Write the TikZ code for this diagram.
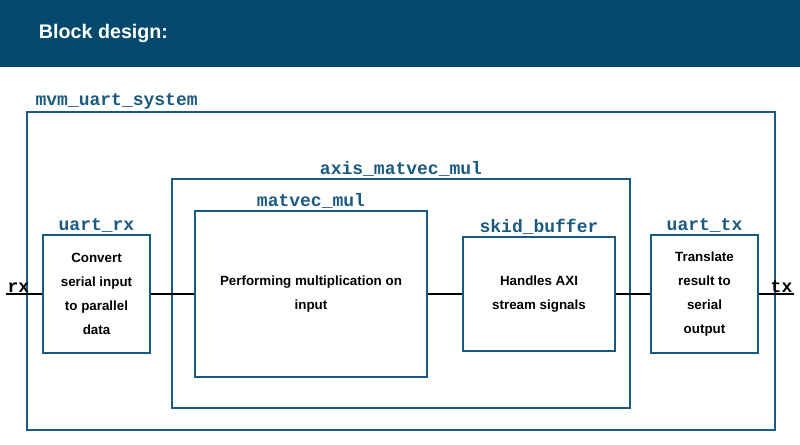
\documentclass[tikz,border=0pt]{standalone}
\usepackage{fontspec}
\setmainfont{Liberation Sans}
\setmonofont{Liberation Mono}
\usepackage{tikz}
\usetikzlibrary{positioning}
\definecolor{hdrblue}{HTML}{03496D}
\definecolor{boxblue}{HTML}{1B5A80}
\tikzset{
  block/.style={draw=boxblue, line width=1.4pt, rectangle, inner sep=0pt,
    align=center, font=\fontsize{9.5}{17}\selectfont\bfseries},
  lbl/.style={font=\fontsize{12.8}{14}\selectfont\ttfamily\bfseries, text=boxblue, inner sep=1pt},
  sig/.style={draw=black, line width=1.4pt},
  pin/.style={font=\fontsize{12.8}{14}\selectfont\ttfamily\bfseries, inner sep=1pt}
}
\begin{document}
\begin{tikzpicture}[x=0.025cm,y=-0.025cm]
		\useasboundingbox (0,0) rectangle (800,445);
		\fill[hdrblue] (0,0) rectangle (800,67);
		\node[anchor=west, text=white, font=\fontsize{14}{16}\selectfont\bfseries] (title) at (34,33) {Block design:};
		%
		\node[block, minimum width=18.7cm, minimum height=7.95cm,
			label={[lbl, anchor=south west, xshift=0.2cm]north west:mvm\_uart\_system}] (sys) at (401,271) {};
		\node[block, minimum width=11.45cm, minimum height=5.725cm,
			label={[lbl]above:axis\_matvec\_mul}] (axis) at (401,293.5) {};
		\node[block, minimum width=5.8cm, minimum height=4.15cm,
			label={[lbl]above:matvec\_mul}] (mul) at (311,294) {Performing multiplication on\\input};
		\node[block, minimum width=3.8cm, minimum height=2.85cm,
			label={[lbl]above:skid\_buffer}] (skid) at (539,294) {Handles AXI\\stream signals};
		\node[block, minimum width=2.675cm, minimum height=2.95cm,
			label={[lbl]above:uart\_rx}] (rx) at (96.5,294) {Convert\\serial input\\to parallel\\data};
		\node[block, minimum width=2.675cm, minimum height=2.95cm,
			label={[lbl]above:uart\_tx}] (tx) at (704.5,294) {Translate\\result to\\serial\\output};
		%
		\coordinate (rxin) at (6,294);
		\coordinate (txout) at (794,294);
		\node[pin, anchor=south west] (rxlbl) at (rxin) {rx};
		\node[pin, anchor=south east] (txlbl) at (txout) {tx};
		\draw[sig] (rxin) -- (rx.west);
		\draw[sig] (rx.east) -- (mul.west);
		\draw[sig] (mul.east) -- (skid.west);
		\draw[sig] (skid.east) -- (tx.west);
		\draw[sig] (tx.east) -- (txout);
	\end{tikzpicture}
\end{document}
